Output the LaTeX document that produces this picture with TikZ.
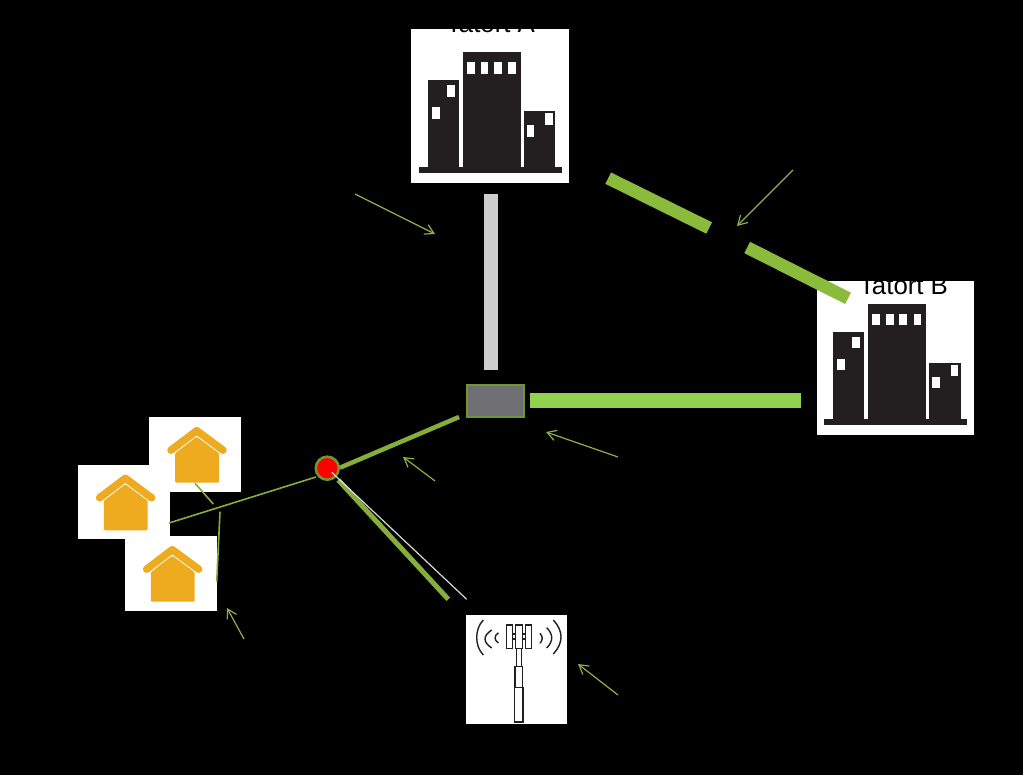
\documentclass[tikz,border=0pt]{standalone}
\usepackage{fontspec}
\setmainfont{Liberation Sans}
\usetikzlibrary{arrows.meta}
\definecolor{barGreen}{HTML}{92D050}
\definecolor{ringGreen}{HTML}{8ABB3C}
\definecolor{oliveLine}{HTML}{86AE3A}
\definecolor{leader}{HTML}{8DB24A}
\definecolor{houseAmber}{HTML}{EEAB20}
\definecolor{towerInk}{HTML}{231F20}
\definecolor{hubGrey}{HTML}{6E6E73}
\definecolor{barGrey}{HTML}{CDCDCD}
\tikzset{
  x=1pt,y=-1pt,
  iconbox/.style={fill=white,draw=none,inner sep=0pt,anchor=north west},
  citybox/.style={iconbox,minimum width=157.7pt,minimum height=154pt},
  homebox/.style={iconbox,minimum width=92pt,minimum height=74.6pt},
  maplabel/.style={text=black,font=\fontsize{25.8}{27}\selectfont,anchor=base,inner sep=0pt},
  leaderarrow/.style={draw=leader,line width=1.2pt,-{Straight Barb[length=9pt,width=10.5pt,line width=1.2pt]}},
  fibre/.style={draw=ringGreen,line width=12.7pt},
  feeder/.style={draw=oliveLine,line width=4.5pt},
  thinlink/.style={draw=oliveLine,line width=1.6pt},
  pics/city/.style={code={
    \fill[towerInk] (8,138) rectangle (150.7,144);
    \fill[towerInk] (16.7,50.7) rectangle (48,138);
    \fill[towerInk] (52,23) rectangle (110,138);
    \fill[towerInk] (113,81.7) rectangle (144.3,138);
    \fill[white] (56,32.7) rectangle +(7.7,11.7);
    \fill[white] (69.7,32.7) rectangle +(7.7,11.7);
    \fill[white] (83,32.7) rectangle +(7.7,11.7);
    \fill[white] (97.3,32.7) rectangle +(7.7,11.7);
    \fill[white] (36,56) rectangle +(7.7,11.4);
    \fill[white] (21,78) rectangle +(7.7,11.4);
    \fill[white] (115.7,96) rectangle +(7.7,11.4);
    \fill[white] (134.3,84) rectangle +(7.7,11.4);
  }},
  pics/home/.style={code={
    \draw[houseAmber,line width=7.5pt,line cap=round,line join=round]
      (22.3,33.5) -- (48,14) -- (74.3,33.5);
    \fill[houseAmber,rounded corners=1pt]
      (26.5,36.5) -- (48,20) -- (70.3,36.5) -- (70.3,66) -- (26.5,66) -- cycle;
  }},
  pics/mast/.style={code={
    \begin{scope}[draw=towerInk,line width=1.2pt]
      \draw (40.3,10) rectangle (46.3,33.3);
      \draw (49.3,10) rectangle (56.7,33.3);
      \draw (59.7,10) rectangle (65.7,33.3);
      \draw (46.3,19) rectangle (49.3,24) (56.7,19) rectangle (59.7,24);
      \draw (50.2,33.3) rectangle (55.7,51.7);
      \draw (49,51.7) rectangle (56.7,72.3);
      \draw (48.3,72.3) rectangle (57,107);
      % radio waves on either side of the antenna panels
      \draw[line width=1.4pt] (17.3,5) .. controls (8.5,14) and (8.5,31) .. (17.3,40);
      \draw[line width=1.4pt] (25.7,15) .. controls (16.8,21) and (16.8,27) .. (25.7,33);
      \draw[line width=1.4pt] (32.3,17.7) .. controls (28,21) and (28,25) .. (32.3,28);
      \draw[line width=1.4pt] (74,18.3) .. controls (77,21.6) and (77,25) .. (74,28.3);
      \draw[line width=1.4pt] (80.7,12.7) .. controls (87.4,19.5) and (87.4,26.2) .. (80.7,33);
      \draw[line width=1.4pt] (87.3,5) .. controls (97.6,16) and (97.6,28) .. (87.3,39);
    \end{scope}
  }}
}
\begin{document}
\begin{tikzpicture}
  \useasboundingbox (0,0) rectangle (1023,775);
  \fill[black] (0,0) rectangle (1023,775);

  % crime scenes
  \node[citybox] (sceneA) at (411,29.3) {};
  \pic at (411,29.3) {city};
  \node[maplabel] (labelA) at (490.5,32.3) {Tatort A};
  \node[citybox] (sceneB) at (816.3,281) {};
  \pic at (816.3,281) {city};
  \node[maplabel] (labelB) at (903.5,295) {Tatort B};

  % houses
  \node[homebox] (homeTop) at (148.7,416.7) {};
  \pic at (148.7,416.7) {home};
  \node[homebox] (homeLeft) at (77.3,464.3) {};
  \pic at (77.3,464.3) {home};
  \node[homebox] (homeBottom) at (124.3,535.7) {};
  \pic at (124.3,535.7) {home};

  % radio mast
  \node[iconbox,minimum width=100.7pt,minimum height=108.3pt] (mast) at (466,615) {};
  \pic at (466,615) {mast};

  % central junction and street cabinet
  \node[draw=oliveLine!85!black,line width=2pt,fill=hubGrey,minimum width=57pt,minimum height=32pt,inner sep=0pt,anchor=north west] (hub) at (465.7,384.5) {};
  \node[circle,draw=oliveLine!85!black,line width=2.6pt,fill=red,minimum size=23pt,inner sep=0pt] (junction) at (327.3,468.2) {};

  % end points of the cable runs
  \coordinate (greyTop) at (491,194);
  \coordinate (greyEnd) at (491,370);
  \coordinate (hubEast) at (530,400.5);
  \coordinate (sceneWest) at (801,400.5);
  \coordinate (ringStart) at (608.2,178.2);
  \coordinate (ringGapA) at (709.2,228);
  \coordinate (ringGapB) at (747.2,247.5);
  \coordinate (ringEnd) at (848,298.3);
  \coordinate (hubSouth) at (459,417);
  \coordinate (junctionNE) at (340,467.7);
  \coordinate (junctionSE) at (338.3,480);
  \coordinate (mastFeed) at (448.3,599.3);
  \coordinate (whiteStart) at (331.7,472.3);
  \coordinate (whiteEnd) at (466.7,599.3);
  \coordinate (homesEnd) at (169,523);
  \coordinate (junctionW) at (316,477);
  \coordinate (tickA) at (195,483.3);
  \coordinate (tickB) at (213.3,504);
  \coordinate (tickC) at (220,511.7);
  \coordinate (tickD) at (216.7,581.7);

  % cable runs
  \draw[draw=barGrey,line width=14pt] (greyTop) -- (greyEnd);
  \draw[draw=barGreen,line width=15pt] (hubEast) -- (sceneWest);
  \draw[fibre] (ringStart) -- (ringGapA);
  \draw[fibre] (ringGapB) -- (ringEnd);
  \draw[feeder] (junctionNE) -- (hubSouth);
  \draw[feeder,line width=5pt] (junctionSE) -- (mastFeed);
  \draw[draw=white!85!black,line width=1.2pt] (whiteStart) -- (whiteEnd);
  \draw[thinlink] (homesEnd) -- (junctionW);
  \draw[thinlink] (tickA) -- (tickB);
  \draw[thinlink] (tickC) -- (tickD);

  % leader arrows
  \coordinate (l1a) at (355,194);  \coordinate (l1b) at (435,234);
  \coordinate (l2a) at (793,170);  \coordinate (l2b) at (737,226);
  \coordinate (l3a) at (618,457);  \coordinate (l3b) at (546,432);
  \coordinate (l4a) at (435,481);  \coordinate (l4b) at (403,457);
  \coordinate (l5a) at (244,639);  \coordinate (l5b) at (227,608);
  \coordinate (l6a) at (618,695);  \coordinate (l6b) at (578,664);
  \draw[leaderarrow] (l1a) -- (l1b);
  \draw[leaderarrow] (l2a) -- (l2b);
  \draw[leaderarrow] (l3a) -- (l3b);
  \draw[leaderarrow] (l4a) -- (l4b);
  \draw[leaderarrow] (l5a) -- (l5b);
  \draw[leaderarrow] (l6a) -- (l6b);
\end{tikzpicture}
\end{document}
